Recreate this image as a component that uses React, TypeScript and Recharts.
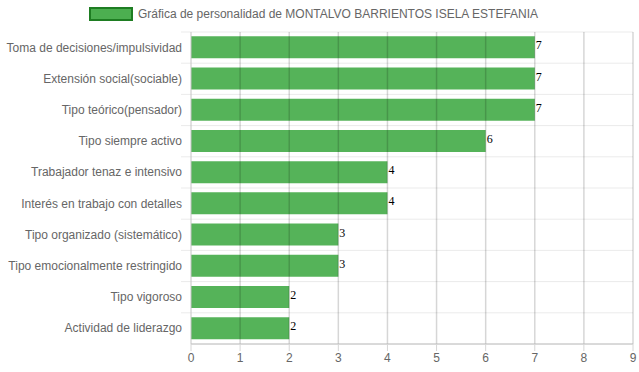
import React from "react";
import {
  BarChart,
  Bar,
  XAxis,
  YAxis,
  CartesianGrid,
  Legend,
  LabelList,
  ReferenceLine,
} from "recharts";

const categories = [
  "Toma de decisiones/impulsividad",
  "Extensión social(sociable)",
  "Tipo teórico(pensador)",
  "Tipo siempre activo",
  "Trabajador tenaz e intensivo",
  "Interés en trabajo con detalles",
  "Tipo organizado (sistemático)",
  "Tipo emocionalmente restringido",
  "Tipo vigoroso",
  "Actividad de liderazgo",
];
const values = [7, 7, 7, 6, 4, 4, 3, 3, 2, 2];
const xTicks = [0, 1, 2, 3, 4, 5, 6, 7, 8, 9];
const seriesName = "Gráfica de personalidad de MONTALVO BARRIENTOS ISELA ESTEFANIA";

const data = categories.map((name, i) => ({ name, value: values[i] }));

const SANS = "'Liberation Sans', Arial, sans-serif";

function LegendBox() {
  return (
    <div
      style={{
        height: 32,
        display: "flex",
        justifyContent: "center",
        alignItems: "flex-start",
        fontFamily: SANS,
        fontSize: 12,
        color: "#666",
      }}
    >
      <div style={{ display: "flex", alignItems: "center", marginTop: 7, marginLeft: -6 }}>
        <span
          style={{
            display: "inline-block",
            width: 40,
            height: 10,
            background: "#4caf50",
            border: "2px solid #1e7d22",
            boxSizing: "content-box",
            marginRight: 5,
          }}
        />
        <span>{seriesName}</span>
      </div>
    </div>
  );
}

// Chart.js-style row separators that also poke out left of the axis
function RowLine(props: any) {
  const { x1, x2, y1, y2 } = props;
  return <line x1={x1 - 10} x2={x2} y1={y1} y2={y2} stroke="#ebebeb" strokeWidth={1} />;
}

// single-line category label, no wrapping
function CategoryTick(props: any) {
  const { x, y, payload } = props;
  return (
    <text x={x} y={y} dy={4} textAnchor="end" fill="#666" fontSize={12} fontFamily={SANS}>
      {payload.value}
    </text>
  );
}

function ValueLabel(props: any) {
  const { x, y, width, height, value } = props;
  return (
    <text
      x={x + width + 1}
      y={y + height / 2 + 2}
      fontFamily="'Liberation Serif', 'Times New Roman', serif"
      fontSize={12}
      fill="#000"
    >
      {value}
    </text>
  );
}

export default function App() {
  return (
    <div style={{ position: "absolute", left: 0, top: 0, width: 639, height: 372, background: "#fff" }}>
      <BarChart
        width={639}
        height={372}
        data={data}
        layout="vertical"
        margin={{ top: 0, right: 6, bottom: 0, left: 0 }}
        barCategoryGap="14%"
      >
        <Legend verticalAlign="top" content={() => <LegendBox />} />
        <CartesianGrid
          vertical={false}
          horizontal={(p: any) => <RowLine {...p} />}
          horizontalCoordinatesGenerator={({ offset }: any) =>
            categories.map((_, i) => offset.top + (i * offset.height) / categories.length)
          }
        />
        <XAxis
          type="number"
          domain={[0, 9]}
          ticks={xTicks}
          height={28}
          tickSize={7}
          tickMargin={2}
          stroke="#bbb"
          tickLine={{ stroke: "#d6d6d6" }}
          tick={{ fill: "#666", fontSize: 12, fontFamily: SANS }}
          axisLine={{ stroke: "#b4b4b4" }}
        />
        <YAxis
          type="category"
          dataKey="name"
          width={191}
          tickSize={0}
          tickMargin={9}
          tickLine={false}
          axisLine={{ stroke: "#c4c4c4" }}
          tick={(p: any) => <CategoryTick {...p} />}
          interval={0}
        />
        <Bar dataKey="value" fill="#4caf50" fillOpacity={0.95} isAnimationActive={false}>
          <LabelList dataKey="value" content={(p: any) => <ValueLabel {...p} />} />
        </Bar>
        {xTicks.slice(1).map((t) => (
          <ReferenceLine key={t} x={t} stroke="rgba(0,0,0,0.16)" strokeWidth={1.5} />
        ))}
      </BarChart>
    </div>
  );
}
